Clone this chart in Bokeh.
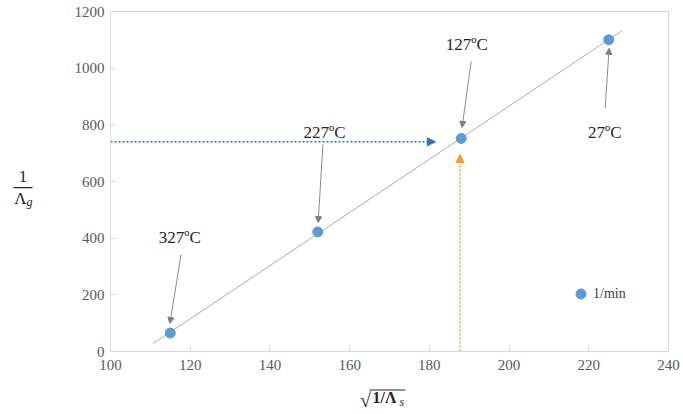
import numpy as np
from bokeh.plotting import figure
from bokeh.layouts import column, row
from bokeh.models import (ColumnDataSource, Arrow, NormalHead, Legend,
                          LegendItem, FixedTicker, Range1d)
from bokeh.core.properties import value
from bokeh.embed import file_html
from bokeh.resources import INLINE

# ---- data ----
x_vals = [115, 152, 188, 225]
y_vals = [65, 422, 752, 1100]
temp_labels = ["327ºC", "227ºC", "127ºC", "27ºC"]
series_name = "1/min"
x_ticks = [100, 120, 140, 160, 180, 200, 220, 240]
y_ticks = [0, 200, 400, 600, 800, 1000, 1200]
trend_x_ends = [110.7, 228.3]
guide_h_y = 740        # horizontal blue dotted guide level
guide_h_x_end = 181.5
guide_v_x = 187.7      # vertical orange dotted guide position
guide_v_y_end = 695

# label/arrow offsets relative to each point (data units)
text_dx = [2.4, 1.7, 1.4, -1.0]
text_dy = [338, 352, 332, -326]
arr_start_dx = [2.7, 1.3, 2.5, -0.9]
arr_start_dy = [277, 309, 272, -242]
arr_end_dx = [-0.1, 0.1, 0.2, 0.1]
arr_end_dy = [34, 33, 39, -30]

SERIF = "Liberation Serif"
LAB = "#262626"
BLUE = "#2e75b6"
ORANGE = "#f4a032"

# ---------------- main chart ----------------
p = figure(width=638, height=384, x_range=Range1d(100, 240), y_range=Range1d(0, 1200),
           output_backend="svg", toolbar_location=None, title=None,
           min_border_left=65, min_border_right=15, min_border_top=11, min_border_bottom=33)

p.xgrid.visible = False
p.ygrid.visible = False
p.outline_line_color = "#d9d9d9"

p.xaxis.ticker = FixedTicker(ticks=x_ticks)
p.yaxis.ticker = FixedTicker(ticks=y_ticks)
for ax in (p.xaxis[0], p.yaxis[0]):
    ax.axis_line_color = "#d9d9d9"
    ax.major_tick_line_color = "#d9d9d9"
    ax.major_tick_in = 5
    ax.major_tick_out = 0
    ax.minor_tick_line_color = None
    ax.major_label_text_font = SERIF
    ax.major_label_text_font_size = "15px"
    ax.major_label_text_color = "#595959"
p.xaxis.major_label_standoff = 8
p.yaxis.major_label_standoff = 6

# trendline (least squares fit of the points)
slope, intercept = np.polyfit(x_vals, y_vals, 1)
tx = np.array(trend_x_ends)
p.line(tx, slope * tx + intercept, line_color="#ababab", line_width=1)

# dotted guide lines with arrow heads
p.segment(x0=[100], y0=[guide_h_y], x1=[guide_h_x_end], y1=[guide_h_y],
          line_color=BLUE, line_width=1.5, line_dash=value("2 2"))
p.add_layout(Arrow(x_start=100, y_start=guide_h_y, x_end=guide_h_x_end, y_end=guide_h_y,
                   line_alpha=0,
                   end=NormalHead(size=8, fill_color=BLUE, line_color=BLUE)))
p.segment(x0=[guide_v_x], y0=[0], x1=[guide_v_x], y1=[guide_v_y_end],
          line_color=ORANGE, line_width=1.5, line_dash=value("2 2"))
p.add_layout(Arrow(x_start=guide_v_x, y_start=0, x_end=guide_v_x, y_end=guide_v_y_end,
                   line_alpha=0,
                   end=NormalHead(size=8, fill_color=ORANGE, line_color=ORANGE)))

# annotation arrows and texts
xs = np.array(x_vals, dtype=float)
ys = np.array(y_vals, dtype=float)
ann = ColumnDataSource(dict(
    xs=xs + np.array(arr_start_dx), ys=ys + np.array(arr_start_dy),
    xe=xs + np.array(arr_end_dx), ye=ys + np.array(arr_end_dy),
    tx=xs + np.array(text_dx), ty=ys + np.array(text_dy), t=temp_labels))
p.add_layout(Arrow(x_start="xs", y_start="ys", x_end="xe", y_end="ye", source=ann,
                   line_color="#8c8c8c", line_width=1,
                   end=NormalHead(size=6, fill_color="#7f7f7f", line_color="#7f7f7f")))
p.text(x="tx", y="ty", text="t", source=ann, text_align="center", text_baseline="middle",
       text_font=value(SERIF), text_font_size="17px", text_color=LAB)

# points
src = ColumnDataSource(dict(x=x_vals, y=y_vals))
r = p.scatter("x", "y", source=src, size=10, fill_color="#5b9bd5", line_color="#5b9bd5")

legend = Legend(items=[LegendItem(label=series_name, renderers=[r])], location=(458, 45),
                padding=0, margin=0, glyph_width=25, glyph_height=25, label_height=25,
                label_standoff=-5, border_line_color=None, background_fill_alpha=0,
                label_text_font=SERIF, label_text_font_size="14px", label_text_color="#404040")
p.add_layout(legend, "center")


def blank(w, h):
    f = figure(width=w, height=h, x_range=Range1d(0, w), y_range=Range1d(0, h),
               output_backend="svg", toolbar_location=None, title=None,
               min_border=0, outline_line_color=None)
    f.axis.visible = False
    f.grid.visible = False
    return f


# ---------------- y-axis label: 1 / Λg ----------------
yl = blank(45, 384)
yl.text(x=[22.5], y=[198], text=["1"], text_align="center", text_baseline="middle",
        text_font=value(SERIF), text_font_size="17px", text_color=LAB)
yl.segment(x0=[13], y0=[185], x1=[32], y1=[185], line_color=LAB, line_width=1.2)
yl.text(x=[20], y=[173], text=["Λ"], text_align="center", text_baseline="middle",
        text_font=value(SERIF), text_font_size="17px", text_color=LAB)
yl.text(x=[26], y=[169], text=["g"], text_align="left", text_baseline="middle",
        text_font=value(SERIF), text_font_style="italic", text_font_size="12px",
        text_color=LAB)

# ---------------- x-axis label: sqrt(1/Λs) ----------------
xl = blank(683, 30)
xl.text(x=[365], y=[15], text=["√"], text_align="center", text_baseline="middle",
        text_font=value(SERIF), text_font_size="20px", text_color=LAB)
xl.text(x=[372], y=[17], text=["1/Λ"], text_align="left", text_baseline="middle",
        text_font=value(SERIF), text_font_style="bold", text_font_size="16px",
        text_color=LAB)
xl.text(x=[399], y=[13], text=["s"], text_align="left", text_baseline="middle",
        text_font=value(SERIF), text_font_style="italic", text_font_size="12px",
        text_color=LAB)
xl.segment(x0=[369], y0=[24.5], x1=[405], y1=[24.5], line_color=LAB, line_width=1.2)

layout = column(row(yl, p), xl)
open("out.html", "w").write(file_html(layout, INLINE))
